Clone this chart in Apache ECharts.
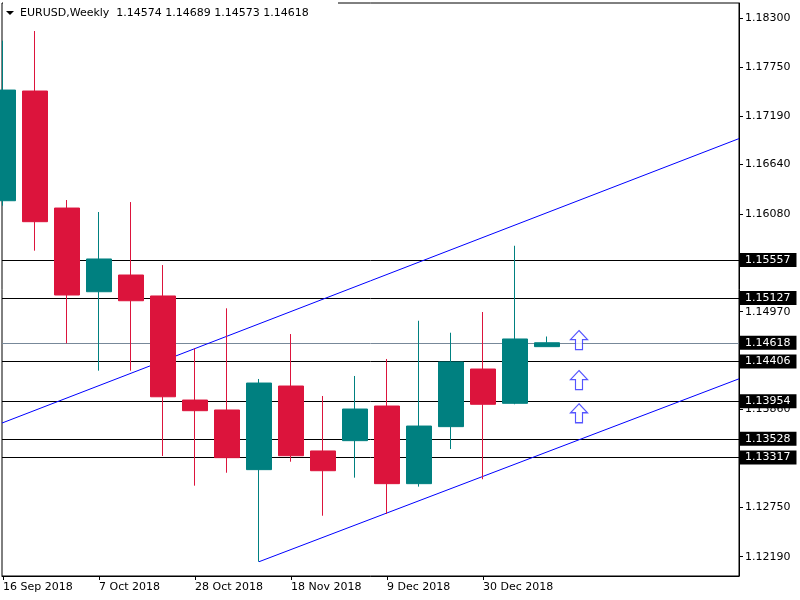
<!DOCTYPE html>
<html>
<head>
<meta charset="utf-8">
<script src="https://cdn.jsdelivr.net/npm/echarts@6/dist/echarts.min.js"></script>
<style>html,body{margin:0;padding:0;background:#fff;}#chart{width:800px;height:600px;}</style>
</head>
<body>
<div id="chart"></div>
<script>
const symbolName = 'EURUSD,Weekly';
const dates = ['16 Sep 2018','23 Sep 2018','30 Sep 2018','7 Oct 2018','14 Oct 2018','21 Oct 2018','28 Oct 2018','4 Nov 2018','11 Nov 2018','18 Nov 2018','25 Nov 2018','2 Dec 2018','9 Dec 2018','16 Dec 2018','23 Dec 2018','30 Dec 2018','6 Jan 2019','13 Jan 2019'];
const opens  = [1.16230,1.17475,1.16147,1.15197,1.15387,1.15149,1.13968,1.13855,1.13178,1.14127,1.13390,1.13507,1.13900,1.13019,1.13666,1.14320,1.13931,1.14574];
const highs  = [1.18046,1.18156,1.16238,1.16102,1.16215,1.15500,1.14555,1.15009,1.14207,1.14717,1.14014,1.14241,1.14434,1.14868,1.14732,1.14967,1.15719,1.14689];
const lows   = [1.16173,1.15663,1.14612,1.14301,1.14301,1.13333,1.12996,1.13143,1.12133,1.13268,1.12655,1.13087,1.12675,1.12985,1.13412,1.13069,1.13920,1.14573];
const closes = [1.17486,1.15992,1.15160,1.15569,1.15095,1.14005,1.13847,1.13314,1.14161,1.13336,1.13166,1.13866,1.13019,1.13673,1.14400,1.13920,1.14661,1.14618];
const levels = [1.15557,1.15127,1.14406,1.13954,1.13528,1.13317];
const currentPrice = 1.14618;
const yTicks = [1.18300,1.17750,1.17190,1.16640,1.16080,1.15530,1.14970,1.14420,1.13860,1.13310,1.12750,1.12190];
const xLabelIdx = [0,3,6,9,12,15];
const upperTrend = [[-0.03125,1.13707],[23,1.16935]];
const lowerTrend = [[8,1.12133],[23,1.14209]];
const arrowIdx = [18,18,18];
const arrowPrices = [1.14649,1.14195,1.13818];

const TEAL = '#008080', RED = '#DC143C', BLUE = '#0000FF';
const FONT = 'DejaVu Sans';
const last = opens.length - 1;
const header = symbolName + '  ' + [opens[last],highs[last],lows[last],closes[last]].map(v=>v.toFixed(5)).join(' ');

const candleData = opens.map((o,i)=>[i,o,closes[i],lows[i],highs[i]]);
const boxLabel = {
  show:true, position:'end', distance:1,
  formatter: p => Number(p.value).toFixed(5),
  backgroundColor:'#000', color:'#fff',
  fontFamily:FONT, fontSize:11, padding:[1,6,0,5], lineHeight:13
};
const hLines = levels.map(v=>({yAxis:v, lineStyle:{color:'#000'}}));
hLines.push({yAxis:currentPrice, lineStyle:{color:'#778899'}});

const chart = echarts.init(document.getElementById('chart'), null, {renderer:'canvas'});
chart.setOption({
  animation:false,
  backgroundColor:'#fff',
  grid:{left:2, right:61, top:3, bottom:24, show:true, borderColor:'#000', borderWidth:1, backgroundColor:'#fff'},
  xAxis:{
    type:'value', min:-0.03125, max:23,
    axisLine:{show:true, onZero:false, lineStyle:{color:'#000', width:1}},
    axisTick:{show:true, customValues:xLabelIdx, length:4, lineStyle:{color:'#000'}},
    axisLabel:{show:true, customValues:xLabelIdx, formatter:v=>dates[Math.round(v)]||'', align:'left', margin:6, color:'#000', fontFamily:FONT, fontSize:11},
    splitLine:{show:false}
  },
  yAxis:{
    type:'value', position:'right', min:1.11971, max:1.18474, scale:true,
    axisLine:{show:true, onZero:false, lineStyle:{color:'#000', width:1}},
    axisTick:{show:true, customValues:yTicks, length:4, lineStyle:{color:'#000'}},
    axisLabel:{show:true, customValues:yTicks, formatter:v=>v.toFixed(5), margin:6, color:'#000', fontFamily:FONT, fontSize:11},
    splitLine:{show:false}
  },
  series:[
    {
      type:'line', z:1, data:upperTrend, symbol:'none', clip:true,
      lineStyle:{color:BLUE, width:1}, silent:true,
      markLine:{z:1, silent:true, precision:5, symbol:['none','none'], animation:false,
        lineStyle:{type:'solid', width:1}, label:boxLabel, data:hLines}
    },
    {type:'line', z:1, data:lowerTrend, symbol:'none', clip:true, lineStyle:{color:BLUE, width:1}, silent:true},
    {
      type:'candlestick', z:3, clip:true, barWidth:25,
      encode:{x:0, y:[1,2,3,4]},
      data:candleData,
      itemStyle:{color:TEAL, color0:RED, borderColor:TEAL, borderColor0:RED, borderWidth:1}
    },
    {
      type:'scatter', z:4, silent:true,
      symbol:'path://M8.5,0 L17,9 L12,9 L12,19 L5,19 L5,9 L0,9 Z',
      symbolSize:[17,19],
      itemStyle:{color:'#ffffff', borderColor:'#2a2aff', borderWidth:1.2},
      data:arrowIdx.map((x,i)=>[x, arrowPrices[i]])
    }
  ],
  graphic:[
    {type:'rect', shape:{x:3, y:0, width:335, height:7}, style:{fill:'#fff'}, z:100},
    {type:'polygon', shape:{points:[[6,11],[14,11],[10,15]]}, style:{fill:'#000'}, z:101},
    {type:'text', left:20, top:8, style:{text:header, fill:'#000', font:'11px "DejaVu Sans"'}, z:101}
  ]
});
</script>
</body>
</html>
